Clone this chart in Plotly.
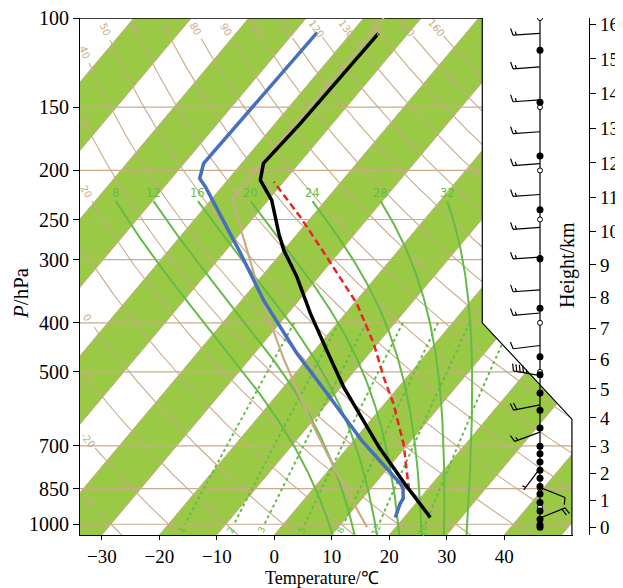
import numpy as np
import plotly.graph_objects as go

# ------------------------------------------------------------------ data
# environmental temperature profile (black)
TEMP_P = [969.5, 837.0, 703.0, 622.7, 535.2, 452.9, 383.3, 324.5, 287.3, 266.3, 228.9, 209.0, 193.7, 161.5, 107.2]
TEMP_T = [24.6, 15.6, 5.3, -1.3, -9.6, -17.9, -26.1, -33.8, -40.0, -43.3, -49.4, -54.3, -56.2, -55.6, -55.2]
# dew point profile (blue)
DEW_P = [969.5, 909.7, 889.2, 849.7, 830.6, 752.9, 682.0, 551.5, 459.7, 360.7, 287.3, 215.4, 207.4, 193.7, 106.7]
DEW_T = [18.5, 17.3, 17.1, 15.6, 14.4, 7.8, 1.3, -11.5, -22.6, -36.2, -47.8, -62.9, -65.1, -66.6, -66.0]
# lifted parcel (red dashed)
PARCEL_P = [856.3, 747.0, 692.3, 577.2, 511.4, 439.3, 366.2, 287.3, 247.0, 210.6]
PARCEL_T = [16.9, 11.9, 9.1, 1.5, -4.1, -10.7, -19.5, -33.3, -42.0, -51.7]
# standard atmosphere reference curve (tan)
STD_P = [1013.25, 795.0, 616.6, 472.2, 356.5, 264.4, 226.3, 100.0]
STD_T = [15.0, 2.0, -11.0, -24.0, -37.0, -50.0, -56.5, -56.5]

P_TICKS = [100, 150, 200, 250, 300, 400, 500, 700, 850, 1000]
ISOBARS = [150, 200, 250, 300, 400, 500, 700, 850, 1000]
T_TICKS = [-30, -20, -10, 0, 10, 20, 30, 40]
T_TICKTEXT = ["\u221230", "\u221220", "\u221210", "0", "10", "20", "30", "40"]
H_TICKS = list(range(0, 17))
DRY_THETA = list(range(-30, 170, 10))
MOIST_T0 = [8, 12, 16, 20, 24, 28, 32]
MIX_RATIO = [1, 2, 3, 5, 8, 12, 20]

# wind panel
DOT_H = [0.0, 0.08, 0.3, 0.62, 0.94, 1.25, 1.53, 1.84, 2.13, 2.43, 2.73, 3.0, 3.65,
         4.27, 4.86, 5.48, 6.08, 7.65, 9.2, 10.65, 12.2, 13.75, 15.25]
MANDATORY_P = [100, 150, 200, 250, 300, 400, 500, 700, 850, 925, 1000]
BARB_H = [15.74, 14.77, 13.82, 12.90, 11.98, 11.09, 10.13, 9.24, 8.23,
          7.5, 6.45, 5.45, 4.45, 3.5, 2.2, 1.5, 0.35]
BARB_DIR = [266, 266, 266, 266, 266, 266, 266, 266, 266,
            265, 263, 280, 259, 250, 217, 112, 68]
BARB_SPD = [15, 15, 15, 15, 15, 15, 15, 15, 15,
            15, 10, 45, 20, 15, 5, 10, 20]

# ------------------------------------------------------------------ layout constants
# (the page body has an 8px margin, so figure px = window px - 8)
OFF = 8
FIG_W, FIG_H = 623 - OFF, 588 - OFF
M_L, M_T = 80 - OFF, 18 - OFF
M_B = FIG_H - (535 - OFF)
M_R = FIG_W - (589 - OFF)
PAPER_W = FIG_W - M_L - M_R
PAPER_H = FIG_H - M_T - M_B
P_BOT, P_TOP = 1050.0, 100.0
X_MIN, X_MAX = -33.8, 52.0
PX_DEG = 5.747
PLOT_W = (X_MAX - X_MIN) * PX_DEG
PX_LN = PAPER_H / np.log(P_BOT / P_TOP)
SKEW = 0.84
K = SKEW * PX_LN / PX_DEG
KAPPA = 0.2857
FRAME_X = [36.2, 36.2, 51.8, 51.8]
FRAME_P = [P_TOP, 400.0, 620.0, P_BOT]
STAFF_X = 540.0 - OFF

GREEN_BAND = "#99c945"
TAN = "#c9ab88"
GREEN_LINE = "#66bb48"
BLUE = "#4670bd"
RED = "#ee2222"
SERIF = "Liberation Serif"


def paper_x(xw):
    return (xw - OFF - M_L) / PAPER_W


def paper_y(yw):
    return (M_T + PAPER_H - (yw - OFF)) / PAPER_H


def skx(T, p):
    return np.asarray(T, float) + K * np.log(P_BOT / np.asarray(p, float))


def to_px(X, p):
    return M_L + (np.asarray(X) - X_MIN) * PX_DEG, M_T + np.log(np.asarray(p) / P_TOP) * PX_LN


def y_to_p(y):
    return P_TOP * np.exp((np.asarray(y) - M_T) / PX_LN)


def std_p(h):
    h = np.asarray(h, float)
    lo = 1013.25 * np.clip(1 - 6.5 * h / 288.15, 1e-6, None) ** 5.25588
    hi = 226.32 * np.exp(-(h - 11.0) * 1000.0 / 6341.62)
    return np.where(h <= 11.0, lo, hi)


fig = go.Figure()


def add(xs, ys, color, width, dash=None, xa="x", ya="y", **kw):
    fig.add_trace(go.Scatter(x=list(xs), y=list(ys), mode="lines",
                             line=dict(color=color, width=width, dash=dash),
                             xaxis=xa, yaxis=ya, hoverinfo="skip", showlegend=False, **kw))


def label(x, y, text, angle=0.0, size=10, color=TAN, **kw):
    d = dict(x=float(x), y=float(y), xref="x", yref="y", text=text, showarrow=False,
             textangle=float(angle), xanchor="center", yanchor="middle",
             font=dict(family="DejaVu Sans", size=size, color=color))
    d.update(kw)
    return d


annotations = []

# ------------------------------------------------------------------ green isotherm bands
bx, bp = [], []
for t1 in range(-140, 60, 20):
    t2 = t1 + 10
    pb, pt = 1100.0, 95.0
    bx += [skx(t1, pb), skx(t2, pb), skx(t2, pt), skx(t1, pt), skx(t1, pb), None]
    bp += [pb, pb, pt, pt, pb, None]
fig.add_trace(go.Scatter(x=bx, y=bp, mode="lines", fill="toself", fillcolor=GREEN_BAND,
                         line=dict(width=0, color=GREEN_BAND), hoverinfo="skip", showlegend=False))

# isotherms (band borders)
ix, ip = [], []
for t in range(-140, 60, 10):
    ix += [skx(t, 1100.0), skx(t, 95.0), None]
    ip += [1100.0, 95.0, None]
add(ix, ip, TAN, 1.0)

# isobars
hx, hp = [], []
for p in ISOBARS:
    hx += [X_MIN - 1, X_MAX + 1, None]
    hp += [p, p, None]
add(hx, hp, TAN, 1.2)

# dry adiabats with inline labels
lp = np.linspace(np.log(P_TOP), np.log(P_BOT), 600)
pp = np.exp(lp)
dx_all, dp_all = [], []
for th in DRY_THETA:
    T = (th + 273.15) * (pp / 1000.0) ** KAPPA - 273.15
    X = skx(T, pp)
    if X[-1] < X_MIN:
        continue
    i = int(np.argmax(X >= X_MIN))
    if i == 0:
        Xe, lpe = X[0], lp[0]
    else:
        f = (X_MIN - X[i - 1]) / (X[i] - X[i - 1])
        Xe, lpe = X_MIN, lp[i - 1] + f * (lp[i] - lp[i - 1])
    Xs = np.concatenate([[Xe], X[i:]])
    ps = np.exp(np.concatenate([[lpe], lp[i:]]))
    xs, ys = to_px(Xs, ps)
    d = np.concatenate([[0.0], np.cumsum(np.hypot(np.diff(xs), np.diff(ys)))])
    j = int(np.searchsorted(d, 12.0))
    k = int(np.searchsorted(d, 23.0))
    ang = np.degrees(np.arctan2(ys[j + 1] - ys[j - 1], xs[j + 1] - xs[j - 1]))
    dx_all += list(Xs[k:]) + [None]
    dp_all += list(ps[k:]) + [None]
    annotations.append(label(Xs[j], np.log10(ps[j]), str(th), ang, 10, TAN))
add(dx_all, dp_all, TAN, 1.1)

# moist adiabats
Rd, Cp, Lv, EPS = 287.04, 1005.7, 2.501e6, 0.622


def dTdp(p, T):
    Tc = T - 273.15
    es = 6.112 * np.exp(17.67 * Tc / (Tc + 243.5))
    rs = EPS * es / (p - es)
    return (Rd * T + Lv * rs) / (p * (Cp + Lv * Lv * rs * EPS / (Rd * T * T)))


def integrate(T0, plist):
    out = [T0]
    T = T0
    for a, b in zip(plist[:-1], plist[1:]):
        h = b - a
        k1 = dTdp(a, T)
        k2 = dTdp(a + h / 2, T + h / 2 * k1)
        k3 = dTdp(a + h / 2, T + h / 2 * k2)
        k4 = dTdp(b, T + h * k3)
        T = T + h / 6 * (k1 + 2 * k2 + 2 * k3 + k4)
        out.append(T)
    return np.array(out)


p_up = np.linspace(1000.0, 230.0, 300)
p_dn = np.linspace(1000.0, 1100.0, 30)
mx, mp = [], []
for t0 in MOIST_T0:
    Tu = integrate(t0 + 273.15, p_up) - 273.15
    Td_ = integrate(t0 + 273.15, p_dn) - 273.15
    P = np.concatenate([p_up[::-1], p_dn[1:]])
    TT = np.concatenate([Tu[::-1], Td_[1:]])
    X = skx(TT, P)
    mx += list(X) + [None]
    mp += list(P) + [None]
    annotations.append(label(X[0], np.log10(P[0]), str(t0), 0, 11.5, GREEN_LINE,
                             yanchor="bottom", yshift=-1))
add(mx, mp, GREEN_LINE, 2.0)

# mixing-ratio lines
p_mix = np.geomspace(400.0, 1000.0, 40)
wx, wp = [], []
for w in MIX_RATIO:
    e = p_mix * w / 1000.0 / (EPS + w / 1000.0)
    le = np.log(e / 6.112)
    Td = 243.5 * le / (17.67 - le)
    X = skx(Td, p_mix)
    wx += list(X) + [None]
    wp += list(p_mix) + [None]
    xs, ys = to_px(X, p_mix)
    ux, uy = xs[-1] - xs[-2], ys[-1] - ys[-2]
    n = np.hypot(ux, uy)
    ux, uy = ux / n, uy / n
    lx, ly = xs[-1] + 6.5 * ux, ys[-1] + 6.5 * uy
    ang = np.degrees(np.arctan2(-uy, -ux))
    annotations.append(label(X_MIN + (lx - M_L) / PX_DEG, np.log10(y_to_p(ly)), str(w), ang, 9, GREEN_LINE))
add(wx, wp, GREEN_LINE, 2.0, dash="3px,3px")

# white mask outside the stepped frame
mask_x = [FRAME_X[0], X_MAX + 2, X_MAX + 2, FRAME_X[2], FRAME_X[2], FRAME_X[1], FRAME_X[0]]
mask_p = [90.0, 90.0, 1100.0, 1100.0, FRAME_P[2], FRAME_P[1], 90.0]
fig.add_trace(go.Scatter(x=mask_x, y=mask_p, mode="lines", fill="toself", fillcolor="white",
                         line=dict(width=0, color="white"), hoverinfo="skip", showlegend=False))
# frame outline
add([X_MIN] + FRAME_X, [P_TOP] + FRAME_P, "black", 1.2)

# profiles
add(skx(STD_T, STD_P), STD_P, TAN, 2.2)
add(skx(DEW_T, DEW_P), DEW_P, BLUE, 3.5)
add(skx(PARCEL_T, PARCEL_P), PARCEL_P, RED, 2.5, dash="7px,4px")
add(skx(TEMP_T, TEMP_P), TEMP_P, "black", 3.5)

# ------------------------------------------------------------------ wind panel (x2 in px, y2 = log p)
p_surf = float(std_p(0.0))
add([STAFF_X, STAFF_X], [p_surf, P_TOP], "black", 1.2, xa="x2", ya="y2")

# barbs
L, BH, SP, BW = 27.0, 7.0, 3.4, 2.0
sx, sp = [], []
for h, dr, spd in zip(BARB_H, BARB_DIR, BARB_SPD):
    ax = STAFF_X
    _, ay = to_px(0.0, std_p(h))
    th = np.deg2rad(dr)
    ux, uy = np.sin(th), -np.cos(th)
    nx, ny = np.cos(th), np.sin(th)
    tipx, tipy = ax + L * ux, ay + L * uy
    sx += [ax, tipx, None]
    sp += [float(y_to_p(ay)), float(y_to_p(tipy)), None]
    nfull = int(spd // 10)
    half = (spd % 10) >= 5
    pos = L
    for _ in range(nfull):
        x0, y0 = ax + pos * ux, ay + pos * uy
        x1, y1 = ax + (pos + BW) * ux + BH * nx, ay + (pos + BW) * uy + BH * ny
        sx += [x0, x1, None]
        sp += [float(y_to_p(y0)), float(y_to_p(y1)), None]
        pos -= SP
    if half:
        if nfull == 0:
            pos -= SP
        x0, y0 = ax + pos * ux, ay + pos * uy
        x1, y1 = ax + (pos + BW / 2) * ux + BH / 2 * nx, ay + (pos + BW / 2) * uy + BH / 2 * ny
        sx += [x0, x1, None]
        sp += [float(y_to_p(y0)), float(y_to_p(y1)), None]
add(sx, sp, "black", 1.2, xa="x2", ya="y2")

fig.add_trace(go.Scatter(x=[STAFF_X] * len(MANDATORY_P), y=MANDATORY_P, mode="markers",
                         marker=dict(size=5, color="white", line=dict(color="black", width=1)),
                         xaxis="x2", yaxis="y2", hoverinfo="skip", showlegend=False))
fig.add_trace(go.Scatter(x=[STAFF_X] * len(DOT_H), y=list(std_p(DOT_H)), mode="markers",
                         marker=dict(size=7, color="black"),
                         xaxis="x2", yaxis="y2", hoverinfo="skip", showlegend=False))

# ------------------------------------------------------------------ titles
TITLE_FONT = dict(family=SERIF, size=20, color="black")
annotations += [
    dict(x=paper_x(322), y=paper_y(578), xref="paper", yref="paper", xanchor="center", yanchor="middle",
         text="Temperature/\u2103", showarrow=False, font=dict(family=SERIF, size=18, color="black")),
    dict(x=paper_x(21), y=paper_y(293), xref="paper", yref="paper", xanchor="center", yanchor="middle",
         text="<i>P</i>/hPa", showarrow=False, textangle=-90, font=dict(family=SERIF, size=21, color="black")),
    dict(x=paper_x(567), y=paper_y(265), xref="paper", yref="paper", xanchor="center", yanchor="middle",
         text="Height/km", showarrow=False, textangle=-90, font=TITLE_FONT),
]

yr = [np.log10(P_BOT), np.log10(P_TOP) - 1e-4]
AX = dict(ticks="outside", tickcolor="black", showline=True, linecolor="black", linewidth=1.2,
          showgrid=False, zeroline=False, automargin=False, ticklabeloverflow="allow")
fig.update_layout(
    width=FIG_W, height=FIG_H, margin=dict(l=M_L, r=M_R, t=M_T, b=M_B, autoexpand=False),
    paper_bgcolor="white", plot_bgcolor="white", showlegend=False, hovermode=False,
    xaxis=dict(domain=[0, PLOT_W / PAPER_W], range=[X_MIN, X_MAX], tickvals=T_TICKS, ticktext=T_TICKTEXT,
               ticklen=4, tickfont=dict(family=SERIF, size=19, color="black"), anchor="y", **AX),
    yaxis=dict(type="log", range=yr, tickvals=P_TICKS, ticktext=[str(v) for v in P_TICKS],
               ticklen=6, tickfont=dict(family=SERIF, size=20, color="black"), anchor="x", **AX),
    xaxis2=dict(overlaying="x", range=[M_L, M_L + PLOT_W], visible=False, anchor="y2"),
    yaxis2=dict(overlaying="y", type="log", range=yr, side="right", anchor="free", position=1.0,
                tickvals=list(std_p(H_TICKS)), ticktext=[str(h) for h in H_TICKS],
                ticklen=6, tickfont=dict(family=SERIF, size=19, color="black"), **AX),
    annotations=annotations,
)

fig.write_html("out.html")
